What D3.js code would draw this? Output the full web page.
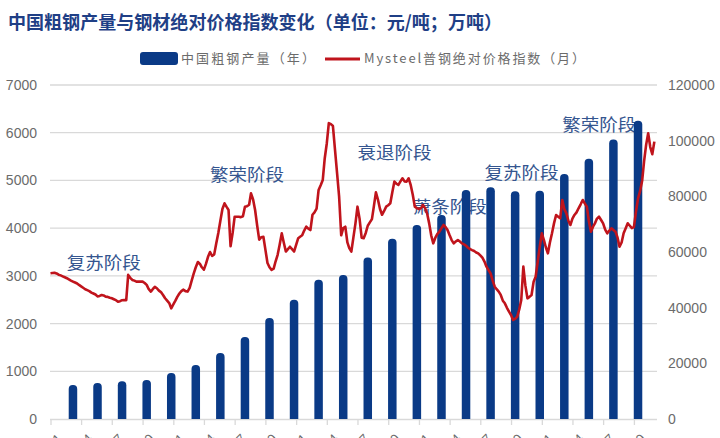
<!DOCTYPE html>
<html>
<head>
<meta charset="utf-8">
<script src="https://cdn.jsdelivr.net/npm/d3@7"></script>
<style>
  html, body { margin: 0; padding: 0; background: #fff; }
  svg { display: block; }
</style>
</head>
<body>
<div id="chart"></div>
<script>
// annual crude steel output (万吨), right axis
const years = [1997, 1998, 1999, 2000, 2001, 2002, 2003, 2004, 2005, 2006, 2007, 2008,
  2009, 2010, 2011, 2012, 2013, 2014, 2015, 2016, 2017, 2018, 2019, 2020];
const output = [12200, 12900, 13600, 14000, 16500, 19400, 23700, 29500, 36300, 42800, 50000, 51700,
  58000, 64800, 69700, 73300, 82300, 83300, 81800, 82000, 88000, 93500, 100400, 107200];

// Mysteel price index (元/吨), monthly from 1997-01, left axis
const priceStart = new Date(1997, 0, 1);
const priceIndex = [
  3054, 3060, 3066, 3050, 3025, 3010, 2990, 2970, 2950, 2925, 2900, 2880, // 1997
  2860, 2840, 2810, 2780, 2750, 2720, 2700, 2680, 2650, 2630, 2610, 2570, // 1998
  2580, 2600, 2590, 2565, 2560, 2540, 2530, 2510, 2490, 2460, 2470, 2490, // 1999
  2495, 2490, 3020, 2960, 2915, 2900, 2880, 2880, 2880, 2880, 2850, 2810, // 2000
  2720, 2670, 2720, 2770, 2740, 2690, 2660, 2600, 2530, 2480, 2430, 2320, // 2001
  2400, 2480, 2560, 2630, 2680, 2710, 2680, 2670, 2750, 2900, 3050, 3180, // 2002
  3290, 3250, 3180, 3130, 3250, 3400, 3500, 3420, 3450, 3680, 3900, 4150, // 2003
  4400, 4520, 4450, 4380, 3620, 3900, 4240, 4240, 4240, 4230, 4250, 4450, // 2004
  4460, 4490, 4730, 4600, 4380, 4050, 3760, 3810, 3820, 3550, 3270, 3180, // 2005
  3125, 3150, 3300, 3440, 3650, 3890, 3700, 3510, 3560, 3610, 3560, 3510, // 2006
  3650, 3790, 3820, 3850, 3950, 4030, 3990, 3960, 4280, 4330, 4410, 4800, // 2007
  4900, 5010, 5460, 5780, 6200, 6180, 6140, 5640, 5150, 4660, 3850, 4000, // 2008
  4030, 3700, 3580, 3510, 3800, 4100, 4450, 4200, 3800, 3790, 3900, 4050, // 2009
  4120, 4190, 4450, 4750, 4600, 4400, 4280, 4360, 4450, 4480, 4520, 4750, // 2010
  4975, 4930, 4905, 4980, 5045, 4980, 4975, 5045, 4900, 4700, 4450, 4420, // 2011
  4400, 4420, 4486, 4420, 4310, 4100, 3850, 3682, 3800, 3880, 3926, 4000, // 2012
  4066, 4020, 3962, 3850, 3750, 3680, 3720, 3752, 3720, 3680, 3660, 3630, // 2013
  3590, 3560, 3540, 3520, 3490, 3470, 3430, 3380, 3300, 3193, 3120, 3050, // 2014
  2900, 2773, 2720, 2669, 2600, 2480, 2424, 2330, 2250, 2180, 2075, 2100, // 2015
  2145, 2300, 2494, 3193, 2800, 2529, 2560, 2599, 2879, 2983, 3300, 3612, // 2016
  3892, 3750, 3600, 3473, 3700, 3892, 4100, 4276, 4240, 4206, 4590, 4400, // 2017
  4311, 4150, 4066, 4200, 4276, 4330, 4416, 4500, 4590, 4520, 4450, 4150, // 2018
  3926, 4031, 4100, 4200, 4240, 4170, 4101, 3970, 3892, 3950, 3997, 3960, // 2019
  3926, 3800, 3612, 3700, 3892, 4000, 4101, 4050, 4000, 4020, 4350, 4620, // 2020
  4780, 5000, 5400, 5750, 5988, 5700, 5550, 5813                          // 2021
];

const leftTicks = [0, 1000, 2000, 3000, 4000, 5000, 6000, 7000];
const rightTicks = [0, 20000, 40000, 60000, 80000, 100000, 120000];

const phases = [
  { label: '复苏阶段', date: new Date(1997, 8, 1), value: 3140 },
  { label: '繁荣阶段', date: new Date(2003, 6, 1), value: 4980 },
  { label: '衰退阶段', date: new Date(2009, 6, 1), value: 5450 },
  { label: '萧条阶段', date: new Date(2011, 9, 1), value: 4320 },
  { label: '复苏阶段', date: new Date(2014, 8, 1), value: 5030 },
  { label: '繁荣阶段', date: new Date(2017, 10, 1), value: 6040 }
];

const titleText = '中国粗钢产量与钢材绝对价格指数变化（单位：元/吨；万吨）';
const legendBar = '中国粗钢产量（年）';
const legendLine = 'Mysteel普钢绝对价格指数（月）';

const width = 720, height = 438;
const barColor = '#0a3a86';
const lineColor = '#c0141c';
const gridColor = '#d9d9d9';
const textGray = '#6b6b6b';
const plotLeft = 50, plotRight = 657, plotTop = 85, plotBottom = 419;

const svg = d3.select('#chart').append('svg')
  .attr('width', width)
  .attr('height', height)
  .style('font-family', 'Liberation Sans, Arial, sans-serif');

const priceDates = priceIndex.map((d, i) => d3.timeMonth.offset(priceStart, i));

const x = d3.scaleTime()
  .domain([priceStart, priceDates[priceDates.length - 1]])
  .range([50.5, 50.5 + (priceIndex.length - 1) * 2.047]);

const yLeft = d3.scaleLinear().domain([0, 7000]).range([plotBottom, plotTop]);
const yRight = d3.scaleLinear().domain([0, 120000]).range([plotBottom, plotTop]);

// title
svg.append('text')
  .attr('x', 8)
  .attr('y', 29)
  .attr('textLength', 494)
  .attr('lengthAdjust', 'spacingAndGlyphs')
  .style('font-family', 'Noto Sans CJK SC')
  .style('font-weight', 'bold')
  .style('font-size', '18px')
  .style('fill', '#1f3f86')
  .text(titleText);

// legend
const legend = svg.append('g').style('font-family', 'Noto Sans CJK SC').style('font-size', '13px').style('fill', textGray);
legend.append('rect')
  .attr('x', 140).attr('y', 52).attr('width', 38).attr('height', 13).attr('rx', 3)
  .attr('fill', barColor);
legend.append('text')
  .attr('x', 181).attr('y', 63)
  .attr('textLength', 134).attr('lengthAdjust', 'spacing')
  .text(legendBar);
legend.append('line')
  .attr('x1', 325).attr('x2', 360).attr('y1', 59).attr('y2', 59)
  .attr('stroke', lineColor).attr('stroke-width', 3);
legend.append('text')
  .attr('x', 364).attr('y', 63)
  .attr('textLength', 221).attr('lengthAdjust', 'spacing')
  .text(legendLine);

// grid lines
svg.append('g')
  .selectAll('line')
  .data(leftTicks.slice(1))
  .join('line')
  .attr('x1', plotLeft).attr('x2', plotRight)
  .attr('y1', d => yLeft(d)).attr('y2', d => yLeft(d))
  .attr('stroke', gridColor).attr('stroke-width', 1.3);

// left axis
svg.append('g')
  .attr('transform', `translate(${plotLeft},0)`)
  .call(d3.axisLeft(yLeft).tickValues(leftTicks).tickFormat(d3.format('d')).tickSize(0).tickPadding(13))
  .call(g => g.select('.domain').remove())
  .selectAll('text')
  .style('font-size', '14px')
  .style('font-family', 'Liberation Sans, Arial, sans-serif')
  .attr('fill', textGray);

// right axis
svg.append('g')
  .attr('transform', `translate(${plotRight},0)`)
  .call(d3.axisRight(yRight).tickValues(rightTicks).tickFormat(d3.format('d')).tickSize(0).tickPadding(11))
  .call(g => g.select('.domain').remove())
  .selectAll('text')
  .style('font-size', '14px')
  .style('font-family', 'Liberation Sans, Arial, sans-serif')
  .attr('fill', textGray);

// bottom axis (monthly dates, every 15 months) - labels run off the bottom edge
const tickDates = d3.range(0, priceIndex.length, 15).map(i => priceDates[i]);
const xAxis = svg.append('g')
  .attr('transform', `translate(0,${plotBottom})`)
  .call(d3.axisBottom(x).tickValues(tickDates).tickSize(6).tickFormat(d3.timeFormat('%Y-%m')));
xAxis.select('.domain')
  .attr('d', `M${plotLeft},0.5H${plotRight}`)
  .attr('stroke', gridColor).attr('stroke-width', 1.5);
xAxis.selectAll('.tick line').attr('stroke', gridColor).attr('stroke-width', 1.3);
xAxis.selectAll('.tick text')
  .attr('fill', textGray)
  .style('font-size', '13px')
  .attr('text-anchor', 'end')
  .attr('dy', '0.9em')
  .attr('x', -6)
  .attr('y', 11)
  .attr('transform', 'rotate(-45)');

// phase labels
svg.append('g')
  .selectAll('text')
  .data(phases)
  .join('text')
  .attr('x', d => x(d.date))
  .attr('y', d => yLeft(d.value))
  .attr('textLength', 74)
  .attr('lengthAdjust', 'spacingAndGlyphs')
  .style('font-family', 'Noto Sans CJK SC')
  .style('font-size', '17px')
  .style('fill', '#34558f')
  .text(d => d.label);

// bars
svg.append('clipPath').attr('id', 'plot-clip')
  .append('rect').attr('x', 0).attr('y', 0).attr('width', width).attr('height', plotBottom);

const barWidth = 8.5;
svg.append('g')
  .attr('clip-path', 'url(#plot-clip)')
  .selectAll('rect')
  .data(years.map((yr, i) => ({ date: new Date(yr, 11, 1), value: output[i] })))
  .join('rect')
  .attr('x', d => x(d.date) - barWidth / 2)
  .attr('width', barWidth)
  .attr('y', d => yRight(d.value))
  .attr('height', d => plotBottom - yRight(d.value) + 6)
  .attr('rx', 4)
  .attr('fill', barColor);

// price line
const line = d3.line()
  .x((d, i) => x(priceDates[i]))
  .y(d => yLeft(d));

svg.append('path')
  .datum(priceIndex)
  .attr('d', line)
  .attr('fill', 'none')
  .attr('stroke', lineColor)
  .attr('stroke-width', 2.6)
  .attr('stroke-linejoin', 'round');
</script>
</body>
</html>
